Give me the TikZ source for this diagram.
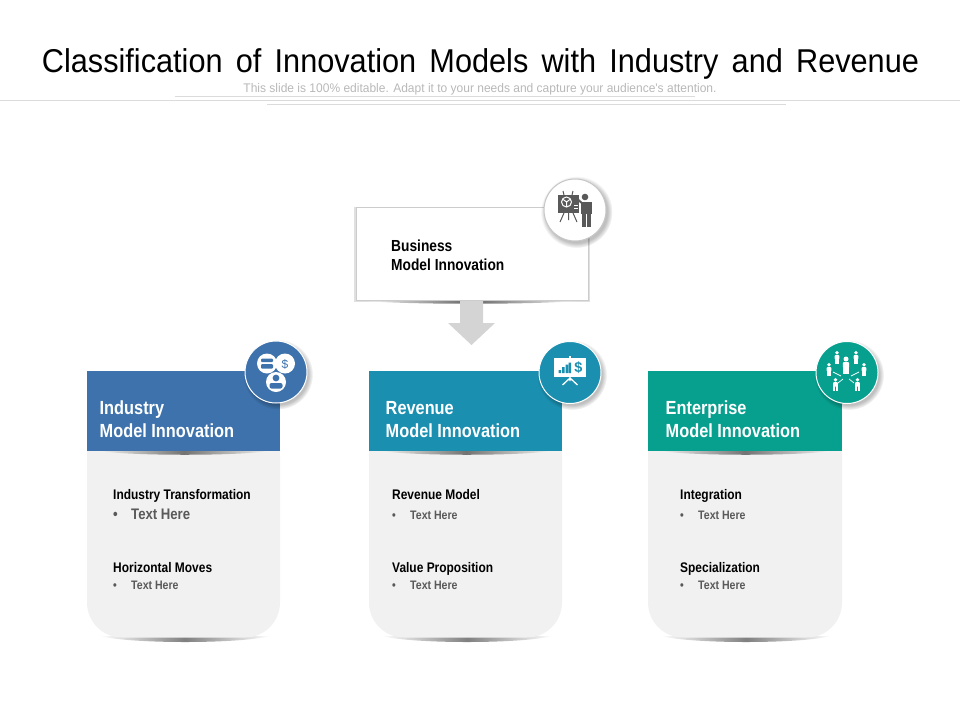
\documentclass[tikz,border=0pt]{standalone}
\usepackage{fontspec}
\setmainfont{Liberation Sans}
\newfontfamily\narrowfont[FakeStretch=0.86]{Liberation Sans}
\newfontfamily\titlefont[FakeStretch=0.93]{Liberation Sans}
\newfontfamily\subtitlefont[FakeStretch=0.96]{Liberation Sans}
\usetikzlibrary{shadows,fadings}
\definecolor{industryblue}{HTML}{3D72AC}
\definecolor{revenueblue}{HTML}{1A8FB0}
\definecolor{enterprisegreen}{HTML}{07A08E}
\definecolor{cardgray}{HTML}{F1F1F1}
\definecolor{icongray}{HTML}{595959}
\tikzset{
  x=1pt,y=-1pt,
  cardhead/.style={anchor=north west,minimum width=193pt,minimum height=80pt,inner sep=0pt,text=white},
  cardtitle/.style={anchor=base west,inner sep=0pt,text=white,font=\narrowfont\fontsize{19}{21}\selectfont\bfseries},
  boxtitle/.style={anchor=base west,inner sep=0pt,font=\narrowfont\fontsize{16}{18}\selectfont\bfseries},
  subhead/.style={anchor=base west,inner sep=0pt,font=\narrowfont\fontsize{13.9}{15}\selectfont\bfseries},
  bodytext/.style={anchor=base west,inner sep=0pt,text=icongray,font=\narrowfont\fontsize{12.3}{14}\selectfont\bfseries},
  badge/.style={circle,minimum size=62pt,inner sep=0pt,draw=white,line width=1pt},
  softshadow/.style={black,opacity=.25,path fading=circle with fuzzy edge 15 percent},
  person/.pic={
    \fill (0,-7) circle (2.5);
    \fill[rounded corners=1pt] (-3.2,-4) rectangle (3.2,2);
    \fill (-3.2,0) rectangle (-.3,8);
    \fill (.3,0) rectangle (3.2,8);
  }
}
\begin{document}
\begin{tikzpicture}
\useasboundingbox (0,0) rectangle (960,720);
% title
\node[inner sep=0pt,font=\titlefont\fontsize{33}{36}\selectfont] (title) at (480.5,64) {\spaceskip=13.2pt Classification of Innovation Models with Industry and Revenue};
\node[inner sep=0pt,text=black!28,font=\subtitlefont\fontsize{12.5}{14}\selectfont] (subtitle) at (480,89) {This slide is 100\% editable. Adapt it to your needs and capture your audience's attention.};
\draw[black!14] (0,100) -- (960,100);
\draw[black!14] (175,96.5) -- (695,96.5);
\draw[black!14] (267,104.5) -- (786,104.5);
% top box
\fill[black,opacity=.12] (354,207) rectangle (589.5,301.5);
\shade[left color=white,right color=white,middle color=black!60] (358,300) -- (585,300) .. controls (550,305) and (390,305) .. cycle;
\node[draw=black!20,fill=white,line width=.8pt,minimum width=232pt,minimum height=93pt,inner sep=0pt,anchor=north west] (business) at (355.5,207) {};
\node[boxtitle] (businesstext) at (391,251) {Business};
\node[boxtitle] (businesstexttwo) at (391,270) {Model Innovation};
\fill[black!17] (460,301) -- (483,301) -- (483,323) -- (495,323) -- (471.5,345) -- (448,323) -- (460,323) -- cycle;
\fill[softshadow] (576.5,212) circle (36);
\node[badge,fill=white,draw=black!22] (businessbadge) at (575,210) {};
\begin{scope}[fill=icongray,draw=icongray]
\fill (558,195) rectangle (579,213);
\draw[line width=1pt] (563,191) -- (564,195) (573,191) -- (572,195);
\draw[line width=1pt] (564,213) -- (560,222) (573,213) -- (577,222) (568.5,213) -- (568.5,220);
\draw[white,line width=1pt] (566.5,202) circle (5) (566.5,202) -- (566.5,207) (566.5,202) -- (562.5,199) (566.5,202) -- (570.5,199);
\draw[white,line width=.8pt] (574,205) -- (577.5,205) (574,208) -- (577.5,208);
\fill (585,197) circle (3.3);
\draw[line width=2pt] (576,198) -- (583,204);
\fill (581,202) rectangle (592,214);
\fill (582,212) rectangle (586,227);
\fill (587,212) rectangle (591,227);
\end{scope}
% industry card
\shade[left color=white,right color=white,middle color=black!50] (100,636) -- (270,636) .. controls (240,644) and (130,644) .. cycle;
\fill[cardgray,rounded corners=35pt] (87,420) rectangle (280,637.5);
\node[cardhead,fill=industryblue] (industryhead) at (87,371) {};
\shade[left color=cardgray,right color=cardgray,middle color=black!55] (100,451) -- (268,451) .. controls (240,456) and (130,456) .. cycle;
\node[cardtitle] (industrytitle) at (99.5,414.5) {Industry};
\node[cardtitle] (industrytitletwo) at (99.5,437.5) {Model Innovation};
\node[subhead] (industryone) at (113,499) {Industry Transformation};
\node[bodytext,font=\narrowfont\fontsize{15.3}{17}\selectfont\bfseries] (industryonetext) at (113,519) {\makebox[18pt][l]{\textbullet}Text Here};
\node[subhead] (industrytwo) at (113,572) {Horizontal Moves};
\node[bodytext] (industrytwotext) at (113,589) {\makebox[18pt][l]{\textbullet}Text Here};
\fill[softshadow] (278,374.5) circle (35);
\node[badge,fill=industryblue] (industrybadge) at (276,372) {};
\fill[white] (267,363.5) circle (10) (285,363.5) circle (10) (276,382) circle (10);
\fill[industryblue,rounded corners=1pt] (261,358.5) rectangle (273,362) (261,364) rectangle (273,368.5);
\node[inner sep=0pt,text=industryblue,font=\fontsize{12}{12}\selectfont] (industrydollar) at (285,364) {\$};
\fill[industryblue] (276,378) circle (3.4);
\fill[industryblue,rounded corners=2pt] (269.5,388.5) rectangle (282.5,383);
% revenue card
\shade[left color=white,right color=white,middle color=black!50] (382,636) -- (552,636) .. controls (522,644) and (412,644) .. cycle;
\fill[cardgray,rounded corners=35pt] (369,420) rectangle (562,637.5);
\node[cardhead,fill=revenueblue] (revenuehead) at (369,371) {};
\shade[left color=cardgray,right color=cardgray,middle color=black!55] (382,451) -- (550,451) .. controls (522,456) and (412,456) .. cycle;
\node[cardtitle] (revenuetitle) at (385.5,414.5) {Revenue};
\node[cardtitle] (revenuetitletwo) at (385.5,437.5) {Model Innovation};
\node[subhead] (revenueone) at (392,499) {Revenue Model};
\node[bodytext] (revenueonetext) at (392,519) {\makebox[18pt][l]{\textbullet}Text Here};
\node[subhead] (revenuetwo) at (392,572) {Value Proposition};
\node[bodytext] (revenuetwotext) at (392,589) {\makebox[18pt][l]{\textbullet}Text Here};
\fill[softshadow] (572,375) circle (35);
\node[badge,fill=revenueblue] (revenuebadge) at (570,372.5) {};
\fill[white] (554,358) rectangle (586,377);
\fill[white] (569,355.5) rectangle (571,358);
\draw[white,line width=1.3pt] (570,377) -- (570,381) (570,378) -- (562.5,385) (570,378) -- (577.5,385);
\fill[revenueblue] (558.5,370) rectangle (561,373) (562,367) rectangle (564.5,373) (565.5,364.5) rectangle (568,373) (568.5,362.5) rectangle (571,373);
\node[inner sep=0pt,text=revenueblue,font=\fontsize{14.5}{14}\selectfont\bfseries] (revenuedollar) at (578.5,367.5) {\$};
% enterprise card
\shade[left color=white,right color=white,middle color=black!50] (661,636) -- (831,636) .. controls (801,644) and (691,644) .. cycle;
\fill[cardgray,rounded corners=35pt] (648,420) rectangle (842,637.5);
\node[cardhead,fill=enterprisegreen,minimum width=194pt] (enterprisehead) at (648,371) {};
\shade[left color=cardgray,right color=cardgray,middle color=black!55] (661,451) -- (829,451) .. controls (801,456) and (691,456) .. cycle;
\node[cardtitle] (enterprisetitle) at (665.5,414.5) {Enterprise};
\node[cardtitle] (enterprisetitletwo) at (665.5,437.5) {Model Innovation};
\node[subhead] (enterpriseone) at (680,499) {Integration};
\node[bodytext] (enterpriseonetext) at (680,519) {\makebox[18pt][l]{\textbullet}Text Here};
\node[subhead] (enterprisetwo) at (680,572) {Specialization};
\node[bodytext] (enterprisetwotext) at (680,589) {\makebox[18pt][l]{\textbullet}Text Here};
\fill[softshadow] (849,375) circle (35);
\node[badge,fill=enterprisegreen] (enterprisebadge) at (847,372.5) {};
\begin{scope}[fill=white]
\foreach \px/\py/\ps in {846/366/1,837/358/.75,856/358/.75,829/370/.75,864/370/.75,835.5/385/.75,857.5/385/.75}
  \path (\px,\py) pic[scale=\ps] {person};
\end{scope}
\draw[white,line width=.7pt] (841,376) -- (833,372) (851,376) -- (859,372) (843,379) -- (838,383) (849,379) -- (854,383);
\end{tikzpicture}
\end{document}
